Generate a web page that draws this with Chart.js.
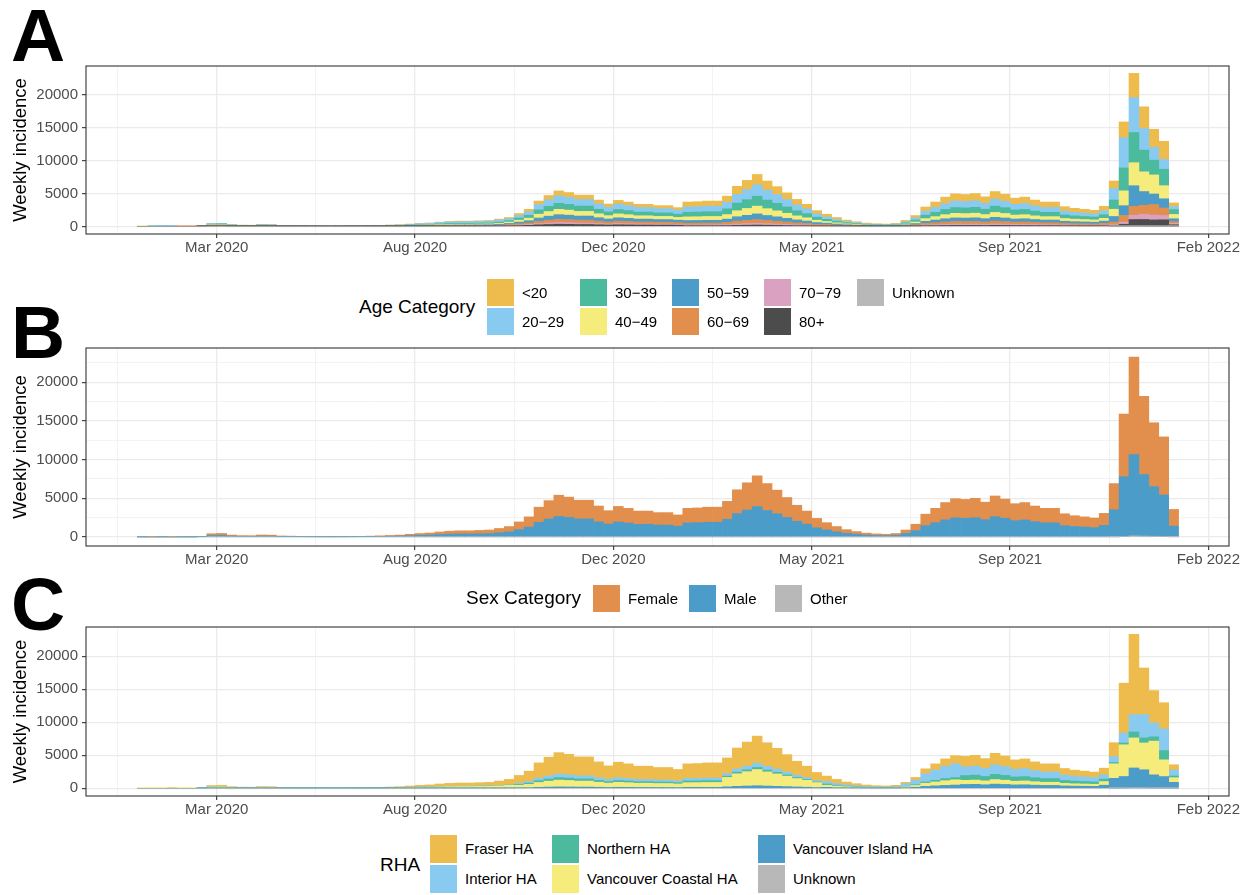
<!DOCTYPE html>
<html>
<head>
<meta charset="utf-8">
<title>Weekly incidence by age, sex and RHA</title>
<script src="https://cdn.jsdelivr.net/npm/chart.js@4.4.1/dist/chart.umd.min.js"></script>
<style>
  html, body { margin: 0; padding: 0; background: #fff; }
  body { position: relative; width: 1253px; height: 895px; overflow: hidden;
         font-family: "Liberation Sans", Arial, Helvetica, sans-serif; color: #000; }
  canvas { position: absolute; left: 0; }
  .tag { position: absolute; left: 11px; font-size: 75px; line-height: 75px; font-weight: bold; }
  .leg-title { position: absolute; font-size: 19px; line-height: 22px; white-space: nowrap; }
  .key { position: absolute; }
  .leg-label { position: absolute; font-size: 15px; line-height: 18px; white-space: nowrap; }
</style>
</head>
<body>
<div class="tag" style="top:-2px">A</div>
<div class="tag" style="top:295px">B</div>
<div class="tag" style="top:567px">C</div>
<canvas id="chartAge" width="1253" height="225" style="top:46px"></canvas>
<canvas id="chartSex" width="1253" height="250" style="top:328px"></canvas>
<canvas id="chartRha" width="1253" height="225" style="top:607px"></canvas>
<script>
// week start dates (Sunday) for each bar
const weeks = [
  '2020-01-19','2020-01-26','2020-02-02','2020-02-09','2020-02-16','2020-02-23',
  '2020-03-01','2020-03-08','2020-03-15','2020-03-22','2020-03-29','2020-04-05','2020-04-12','2020-04-19','2020-04-26','2020-05-03',
  '2020-05-10','2020-05-17','2020-05-24','2020-05-31','2020-06-07','2020-06-14','2020-06-21','2020-06-28','2020-07-05','2020-07-12','2020-07-19','2020-07-26',
  '2020-08-02','2020-08-09','2020-08-16','2020-08-23','2020-08-30','2020-09-06','2020-09-13','2020-09-20','2020-09-27',
  '2020-10-04','2020-10-11','2020-10-18','2020-10-25','2020-11-01','2020-11-08','2020-11-15','2020-11-22','2020-11-29','2020-12-06','2020-12-13','2020-12-20','2020-12-27','2021-01-03','2021-01-10','2021-01-17','2021-01-24','2021-01-31',
  '2021-02-07','2021-02-14','2021-02-21','2021-02-28','2021-03-07','2021-03-14','2021-03-21','2021-03-28','2021-04-04','2021-04-11','2021-04-18','2021-04-25','2021-05-02','2021-05-09',
  '2021-05-16','2021-05-23','2021-05-30','2021-06-06','2021-06-13','2021-06-20','2021-06-27','2021-07-04','2021-07-11','2021-07-18','2021-07-25','2021-08-01','2021-08-08','2021-08-15','2021-08-22','2021-08-29','2021-09-05','2021-09-12','2021-09-19','2021-09-26','2021-10-03','2021-10-10','2021-10-17','2021-10-24','2021-10-31','2021-11-07','2021-11-14','2021-11-21','2021-11-28',
  '2021-12-05','2021-12-12','2021-12-19','2021-12-26','2022-01-02','2022-01-09','2022-01-16'
];

const tickDates = ['2020-03-15', '2020-08-02', '2020-12-20', '2021-05-09', '2021-09-26', '2022-02-13'];
const tickLabels = ['Mar 2020', 'Aug 2020', 'Dec 2020', 'May 2021', 'Sep 2021', 'Feb 2022'];
const yTicks = [0, 5000, 10000, 15000, 20000];

// ---- A: age category ----
const ageCats = ['<20', '20\u221229', '30\u221239', '40\u221249', '50\u221259', '60\u221269', '70\u221279', '80+', 'Unknown'];
const ageColors = ['#EEBC4C', '#89CAF0', '#4CBB9D', '#F5EC7B', '#4C9CC9', '#E28E4C', '#DBA1C1', '#4C4C4C', '#B8B8B8'];
const ageLt20 = [0,0,0,0,0,0,
  4,17,18,10,7,7,10,10,5,4,
  10,8,7,6,7,8,9,12,17,22,28,39,
  50,57,72,83,88,88,94,99,121,
  189,273,364,539,658,756,721,665,665,560,476,553,518,469,469,441,441,399,
  740,750,770,770,920,1220,1400,1580,1380,1210,1020,820,670,480,
  407,297,209,154,110,88,77,99,198,363,649,814,979,1089,1067,1100,990,1166,1078,946,979,880,814,814,660,605,572,539,671,
  1150,2400,3700,3300,2750,2750,550];
const age20to29 = [0,0,1,0,0,1,
  11,59,64,35,25,24,36,34,18,15,
  27,21,18,15,18,21,24,33,45,60,75,105,
  135,156,195,225,240,240,255,270,330,
  284,410,546,809,987,1134,1082,998,998,840,714,830,777,704,704,662,662,599,
  814,825,847,847,1012,1342,1540,1738,1518,1331,1122,902,737,528,
  370,270,190,140,100,80,70,90,180,330,590,740,890,990,970,1000,900,1060,980,860,890,800,740,740,600,550,520,490,610,
  1750,4600,5300,3300,1950,1500,450];
const age30to39 = [0,1,0,0,1,0,
  13,67,74,40,29,27,42,38,21,18,
  16,13,11,9,11,13,14,20,27,36,45,63,
  81,94,117,135,144,144,153,162,198,
  230,332,442,655,799,918,876,808,808,680,578,672,629,570,570,536,536,485,
  703,713,732,732,874,1159,1330,1501,1311,1150,969,779,637,456,
  333,243,171,126,90,72,63,81,162,297,531,666,801,891,873,900,810,954,882,774,801,720,666,666,540,495,468,441,549,
  1400,3500,4600,3300,2250,2500,750];
const age40to49 = [1,0,0,0,0,1,
  14,71,78,43,31,29,44,41,22,19,
  12,9,8,6,8,9,10,14,20,26,33,46,
  59,68,85,98,104,104,110,117,143,
  203,293,390,578,705,810,773,713,713,600,510,593,555,503,503,473,473,428,
  555,563,578,578,690,915,1050,1185,1035,908,765,615,503,360,
  259,189,133,98,70,56,49,63,126,231,413,518,623,693,679,700,630,742,686,602,623,560,518,518,420,385,364,343,427,
  1100,2250,3500,3000,2900,2000,650];
const age50to59 = [0,0,1,1,0,0,
  14,76,83,45,32,31,47,43,23,20,
  10,8,7,5,7,8,9,12,17,22,28,39,
  50,57,72,83,88,88,94,99,121,
  176,254,338,501,611,702,670,618,618,520,442,514,481,436,436,410,410,371,
  407,413,424,424,506,671,770,869,759,666,561,451,369,264,
  204,149,105,77,55,44,39,50,99,182,325,407,490,545,534,550,495,583,539,473,490,440,407,407,330,303,286,270,336,
  850,1500,3150,2100,1600,1400,450];
const age60to69 = [0,0,0,0,1,1,
  10,55,60,33,23,22,34,31,17,14,
  6,5,4,4,4,5,6,8,10,14,17,24,
  31,36,45,52,56,56,60,63,77,
  122,176,234,347,423,486,464,428,428,360,306,356,333,302,302,284,284,257,
  259,263,270,270,322,427,490,553,483,424,357,287,235,168,
  148,108,76,56,40,32,28,36,72,132,236,296,356,396,388,400,360,424,392,344,356,320,296,296,240,220,208,196,244,
  400,1000,1350,1350,1600,1150,270];
const age70to79 = [0,0,0,0,0,0,
  6,34,37,20,14,14,21,19,10,9,
  4,3,2,2,2,3,3,4,6,8,10,14,
  18,21,26,30,32,32,34,36,44,
  68,98,130,193,235,270,258,238,238,200,170,198,185,168,168,158,158,143,
  130,131,135,135,161,214,245,277,242,212,179,144,117,84,
  74,54,38,28,20,16,14,18,36,66,118,148,178,198,194,200,180,212,196,172,178,160,148,148,120,110,104,98,122,
  130,330,650,800,750,650,200];
const age80plus = [0,0,0,0,0,0,
  8,42,46,25,18,17,26,24,13,11,
  5,4,4,3,4,4,5,7,9,12,15,21,
  27,31,39,45,48,48,51,54,66,
  81,117,156,231,282,324,309,285,285,240,204,237,222,201,201,189,189,171,
  93,94,96,96,115,153,175,198,173,151,128,103,84,60,
  56,41,29,21,15,12,11,14,27,50,89,111,134,149,146,150,135,159,147,129,134,120,111,111,90,83,78,74,92,
  120,300,1000,1020,960,980,240];
const ageUnknown = [0,0,0,0,0,0,
  0,0,0,0,0,0,0,0,0,0,
  0,0,0,0,0,0,0,0,0,0,0,0,
  0,0,0,0,0,0,0,0,0,
  0,0,0,0,0,0,0,0,0,0,0,0,0,0,0,0,0,0,
  0,0,0,0,0,0,0,0,0,0,0,0,0,0,
  0,0,0,0,0,0,0,0,0,0,0,0,0,0,0,0,0,0,0,0,0,0,0,0,0,0,0,0,0,
  5,20,40,30,20,15,5];

// ---- B: sex category ----
const sexCats = ['Female', 'Male', 'Other'];
const sexColors = ['#E28E4C', '#4C9CC9', '#B8B8B8'];
const sexFemale = [0,1,1,1,1,1,
  40,220,240,130,95,90,140,125,68,58,
  46,35,30,25,30,34,39,54,73,98,122,172,
  222,258,324,375,402,404,430,456,560,
  685,990,1320,1950,2380,2740,2620,2420,2410,2040,1730,2020,1890,1710,1700,1600,1610,1450,
  1880,1900,1950,1950,2320,3070,3520,3970,3470,3050,2570,2070,1690,1210,
  930,680,480,350,250,200,175,224,445,820,1470,1850,2230,2480,2430,2510,2260,2680,2480,2180,2250,2020,1870,1870,1520,1390,1310,1240,1550,
  3380,8100,12600,10100,8260,7500,2150];
const sexMale = [1,0,1,0,1,2,
  40,200,220,120,85,80,120,115,62,52,
  44,35,30,25,30,36,41,56,77,102,128,178,
  228,262,326,375,398,396,420,444,540,
  665,960,1280,1900,2320,2660,2530,2330,2340,1960,1670,1930,1810,1640,1650,1550,1540,1400,
  1820,1850,1900,1900,2280,3030,3480,3930,3430,3000,2530,2030,1660,1190,
  920,670,470,350,250,200,175,226,455,830,1480,1850,2220,2470,2420,2490,2240,2620,2420,2120,2200,1980,1830,1830,1480,1360,1290,1210,1500,
  3500,7700,10500,7950,6400,5350,1380];
const sexOther = [0,0,0,0,0,0,
  0,0,0,0,0,0,0,0,0,0,
  0,0,0,0,0,0,0,0,0,0,0,0,
  0,0,0,0,0,0,0,0,0,
  0,0,0,0,0,0,0,0,0,0,0,0,0,0,0,0,0,0,
  0,0,0,0,0,0,0,0,0,0,0,0,0,0,
  0,0,0,0,0,0,0,0,0,0,0,0,0,0,0,0,0,0,0,0,0,0,0,0,0,0,0,0,0,
  20,80,150,120,100,80,30];

// ---- C: regional health authority ----
const rhaCats = ['Fraser HA', 'Interior HA', 'Northern HA', 'Vancouver Coastal HA', 'Vancouver Island HA', 'Unknown'];
const rhaColors = ['#EEBC4C', '#89CAF0', '#4CBB9D', '#F5EC7B', '#4C9CC9', '#B8B8B8'];
const rhaFraser = [0,0,1,1,0,1,
  32,168,184,100,72,68,104,96,52,44,
  45,35,30,25,30,35,40,55,75,100,125,175,
  261,302,377,435,464,464,493,522,638,
  783,1170,1560,2310,2820,3240,3090,2850,2850,2400,2040,2370,2220,2010,2010,1890,1890,1710,
  2220,2250,2310,2310,2392,3172,3640,4108,3588,3146,2652,2132,1742,1248,
  833,608,428,315,225,180,158,203,225,413,738,925,1113,1238,1601,1650,1485,1749,1617,1419,1469,1320,1221,1221,990,908,858,809,1000,
  2100,7550,12150,7050,4900,3950,800];
const rhaInterior = [0,0,0,0,0,0,
  6,34,37,20,14,14,21,19,10,9,
  9,7,6,5,6,7,8,11,15,20,25,35,
  23,26,33,38,40,40,43,45,55,
  68,195,260,385,470,540,515,475,475,400,340,395,370,335,335,315,315,285,
  370,375,385,385,368,488,560,632,552,484,408,328,268,192,
  370,270,190,140,100,80,70,90,378,693,1239,1554,1869,2079,1310,1350,1215,1431,1323,1161,1202,1080,999,999,810,743,702,662,650,
  900,1510,2620,3540,2100,3280,900];
const rhaNorthern = [0,0,0,0,0,0,
  2,8,9,5,4,3,5,5,3,2,
  3,2,2,1,2,2,2,3,5,6,8,10,
  14,16,20,23,24,24,26,27,33,
  41,137,182,270,329,378,361,333,333,280,238,277,259,235,235,221,221,200,
  259,263,270,270,184,244,280,316,276,242,204,164,134,96,
  185,135,95,70,50,40,35,45,63,115,206,259,311,346,727,750,675,795,735,645,667,600,555,555,450,412,390,367,380,
  200,260,900,760,650,1410,260];
const rhaVanCoastal = [1,1,1,0,1,2,
  35,185,202,110,79,75,114,106,57,48,
  30,23,20,17,20,23,27,36,50,66,82,116,
  139,161,201,232,248,248,263,279,341,
  418,371,494,731,893,1026,978,902,902,760,646,750,703,636,636,598,598,541,
  703,712,731,731,1426,1891,2170,2449,2139,1876,1581,1271,1039,744,
  315,230,161,119,85,68,59,76,144,264,472,592,712,792,631,650,585,689,637,559,579,520,481,481,390,357,338,318,550,
  2200,4800,4550,4050,5100,2530,700];
const rhaVanIsland = [0,0,0,0,0,0,
  5,25,28,15,11,10,16,14,8,7,
  3,3,2,2,2,3,3,5,5,8,10,14,
  13,15,19,22,24,24,25,27,33,
  40,78,104,154,188,216,206,190,190,160,136,158,148,134,134,126,126,114,
  148,150,154,154,230,305,350,395,345,302,255,205,167,120,
  147,107,76,56,40,32,28,36,90,165,295,370,445,495,582,600,540,636,588,516,534,480,444,444,360,330,312,294,470,
  1500,1760,3030,2770,2010,1760,900];
const rhaUnknown = [0,0,0,0,0,0,
  0,0,0,0,0,0,0,0,0,0,
  0,0,0,0,0,0,0,0,0,0,0,0,
  0,0,0,0,0,0,0,0,0,
  0,0,0,0,0,0,0,0,0,0,0,0,0,0,0,0,0,0,
  0,0,0,0,0,0,0,0,0,0,0,0,0,0,
  0,0,0,0,0,0,0,0,0,0,0,0,0,0,0,0,0,0,0,0,0,0,0,0,0,0,0,0,0,
  10,30,50,40,30,20,5];

// ---------------------------------------------------------------
const DAY = 86400000;
const origin = Date.parse('2020-01-01');
const dayOf = s => (Date.parse(s) - origin) / DAY;
const weekMid = weeks.map(w => dayOf(w) + 3.5);
const tickDays = tickDates.map(dayOf);

const X_MIN = -18.3, X_MAX = 788.6;
const Y_MIN = -1162.5, Y_MAX = 24412.5;

// major + minor grid positions (minor halfway between majors, like ggplot)
const xStep = tickDays[1] - tickDays[0];
const xGrid = [tickDays[0] - xStep / 2].concat(tickDays.flatMap(d => [d, d + xStep / 2]))
  .filter(v => v >= X_MIN && v <= X_MAX);
const yGrid = yTicks.flatMap(v => [v, v + 2500]).filter(v => v <= Y_MAX);

Chart.defaults.font.family = '"Liberation Sans", Arial, Helvetica, sans-serif';

const panelBorder = {
  id: 'panelBorder',
  afterDatasetsDraw(chart) {
    const { ctx, chartArea: a } = chart;
    ctx.save();
    ctx.strokeStyle = '#333333';
    ctx.lineWidth = 1.1;
    ctx.strokeRect(a.left, a.top, a.right - a.left, a.bottom - a.top);
    ctx.restore();
  }
};

const gridOpts = majors => ({
  color: '#EBEBEB',
  lineWidth: c => (c.tick && majors.includes(c.tick.value)) ? 1.3 : 0.6,
  drawTicks: true,
  tickLength: 4,
  tickWidth: 1.1,
  tickColor: c => (c.tick && majors.includes(c.tick.value)) ? '#333333' : 'rgba(0,0,0,0)',
  offset: false
});

function makeChart(id, cats, colors, series, padBottom) {
  // ggplot stacks the first level on top, Chart.js stacks dataset 0 at the bottom
  const datasets = cats.map((c, i) => ({
    label: c,
    data: series[i].map((v, j) => ({ x: weekMid[j], y: v })),
    backgroundColor: colors[i],
    borderWidth: 0,
    categoryPercentage: 1,
    barPercentage: 1
  })).reverse();

  return new Chart(document.getElementById(id), {
    type: 'bar',
    data: { datasets },
    options: {
      responsive: false,
      animation: false,
      devicePixelRatio: 1,
      layout: { padding: { top: 20, right: 24, bottom: padBottom, left: 0 } },
      plugins: { legend: { display: false }, tooltip: { enabled: false } },
      scales: {
        x: {
          type: 'linear',
          stacked: true,
          offset: false,
          min: X_MIN,
          max: X_MAX,
          afterBuildTicks: s => { s.ticks = xGrid.map(v => ({ value: v })); },
          afterFit: s => { s.height = 30; },
          ticks: {
            callback: v => { const i = tickDays.indexOf(v); return i >= 0 ? tickLabels[i] : ''; },
            maxRotation: 0, minRotation: 0, autoSkip: false,
            color: '#4D4D4D', font: { size: 15 }, padding: 1
          },
          grid: gridOpts(tickDays),
          border: { display: false }
        },
        y: {
          stacked: true,
          min: Y_MIN,
          max: Y_MAX,
          afterBuildTicks: s => { s.ticks = yGrid.map(v => ({ value: v })); },
          afterFit: s => { s.width = 86; },
          ticks: {
            callback: v => yTicks.includes(v) ? String(v) : '',
            color: '#4D4D4D', font: { size: 15 }, padding: 4
          },
          grid: gridOpts(yTicks),
          border: { display: false },
          title: {
            display: true, text: 'Weekly incidence', color: '#000',
            font: { size: 18.5 }, padding: { top: 10, bottom: 0 }
          }
        }
      }
    },
    plugins: [panelBorder]
  });
}

makeChart('chartAge', ageCats, ageColors,
  [ageLt20, age20to29, age30to39, age40to49, age50to59, age60to69, age70to79, age80plus, ageUnknown], 7);
makeChart('chartSex', sexCats, sexColors, [sexFemale, sexMale, sexOther], 2);
makeChart('chartRha', rhaCats, rhaColors,
  [rhaFraser, rhaInterior, rhaNorthern, rhaVanCoastal, rhaVanIsland, rhaUnknown], 6);

// ggplot-style legends (column-major key grid)
function buildLegend(cfg) {
  const t = document.createElement('div');
  t.className = 'leg-title';
  t.textContent = cfg.title;
  t.style.left = cfg.titleX + 'px';
  t.style.top = (cfg.titleY - 11) + 'px';
  document.body.appendChild(t);
  cfg.cats.forEach((c, i) => {
    const col = Math.floor(i / cfg.rows.length), row = i % cfg.rows.length;
    const k = document.createElement('div');
    k.className = 'key';
    Object.assign(k.style, {
      left: cfg.cols[col] + 'px', top: cfg.rows[row] + 'px',
      width: cfg.keyW + 'px', height: cfg.keyH + 'px', background: cfg.colors[i]
    });
    document.body.appendChild(k);
    const l = document.createElement('div');
    l.className = 'leg-label';
    l.textContent = c;
    l.style.left = (cfg.cols[col] + cfg.keyW + 8) + 'px';
    l.style.top = (cfg.rows[row] + cfg.keyH / 2 - 9) + 'px';
    document.body.appendChild(l);
  });
}

buildLegend({ title: 'Age Category', titleX: 359, titleY: 307, cats: ageCats, colors: ageColors,
  cols: [487, 580, 672, 764, 857], rows: [279, 308], keyW: 27, keyH: 27 });
buildLegend({ title: 'Sex Category', titleX: 466, titleY: 598, cats: sexCats, colors: sexColors,
  cols: [593, 689, 775], rows: [585], keyW: 27, keyH: 27 });
buildLegend({ title: 'RHA', titleX: 380, titleY: 865, cats: rhaCats, colors: rhaColors,
  cols: [430, 552, 758], rows: [835, 865], keyW: 27, keyH: 28 });
</script>
</body>
</html>
